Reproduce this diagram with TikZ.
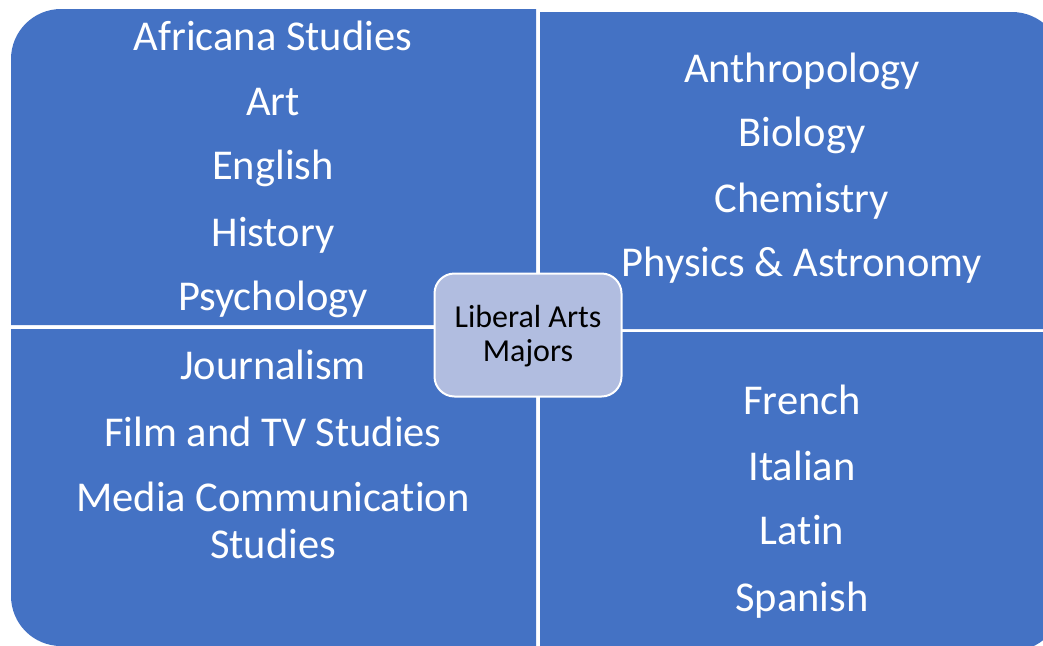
\documentclass[tikz,border=0pt]{standalone}
\usepackage{fontspec}
\setmainfont{Carlito}[Ligatures=CommonOff]
\definecolor{quad}{HTML}{4472C4}
\definecolor{hub}{HTML}{B1BDE0}
\begin{document}
\begin{tikzpicture}[x=1pt,y=1pt,
  lab/.style={anchor=base,text=white,font=\fontsize{42.5}{47}\selectfont,inner sep=0pt},
  hubtext/.style={anchor=base,text=black,font=\fontsize{32}{35}\selectfont,inner sep=0pt},
  quadfill/.style={fill=quad}]
\useasboundingbox (0,0) rectangle (1043,-645);
\begin{scope}
\clip (0,0) rectangle (1043,-645);
% top-left
\fill[quadfill] (536,-325) -- (11,-325) [rounded corners=50pt] -- (11,-9) [sharp corners] -- (536,-9) -- cycle;
% top-right
\fill[quadfill] (540,-329) -- (540,-12) [rounded corners=50pt] -- (1062,-12) [sharp corners] -- (1062,-329) -- cycle;
% bottom-left
\fill[quadfill] (536,-329) -- (11,-329) [rounded corners=50pt] -- (11,-646) [sharp corners] -- (536,-646) -- cycle;
% bottom-right
\fill[quadfill] (540,-332) -- (1062,-332) [rounded corners=50pt] -- (1062,-651) [sharp corners] -- (540,-651) -- cycle;
\end{scope}
% top-left texts
\node[lab] (tl1) at (273,-50) {Africana Studies};
\node[lab] (tl2) at (273,-115) {Art};
\node[lab] (tl3) at (273,-179) {English};
\node[lab] (tl4) at (273,-246) {History};
\node[lab] (tl5) at (273,-310) {Psychology};
% top-right texts
\node[lab] (tr1) at (802,-82) {Anthropology};
\node[lab] (tr2) at (802,-146) {Biology};
\node[lab] (tr3) at (802,-212) {Chemistry};
\node[lab] (tr4) at (802,-276) {Physics \& Astronomy};
% bottom-left texts
\node[lab] (bl1) at (273,-379) {Journalism};
\node[lab] (bl2) at (273,-446) {Film and TV Studies};
\node[lab] (bl3) at (273,-511) {Media Communication};
\node[lab] (bl4) at (273,-558) {Studies};
% bottom-right texts
\node[lab] (br1) at (802,-414) {French};
\node[lab] (br2) at (802,-480) {Italian};
\node[lab] (br3) at (802,-544) {Latin};
\node[lab] (br4) at (802,-611) {Spanish};
% hub
\node[draw=white,line width=2pt,fill=hub,rounded corners=20pt,minimum width=187pt,minimum height=123pt] (hub) at (528,-335) {};
\node[hubtext] (hubt1) at (528,-327) {Liberal Arts};
\node[hubtext] (hubt2) at (528,-361) {Majors};
\end{tikzpicture}
\end{document}
